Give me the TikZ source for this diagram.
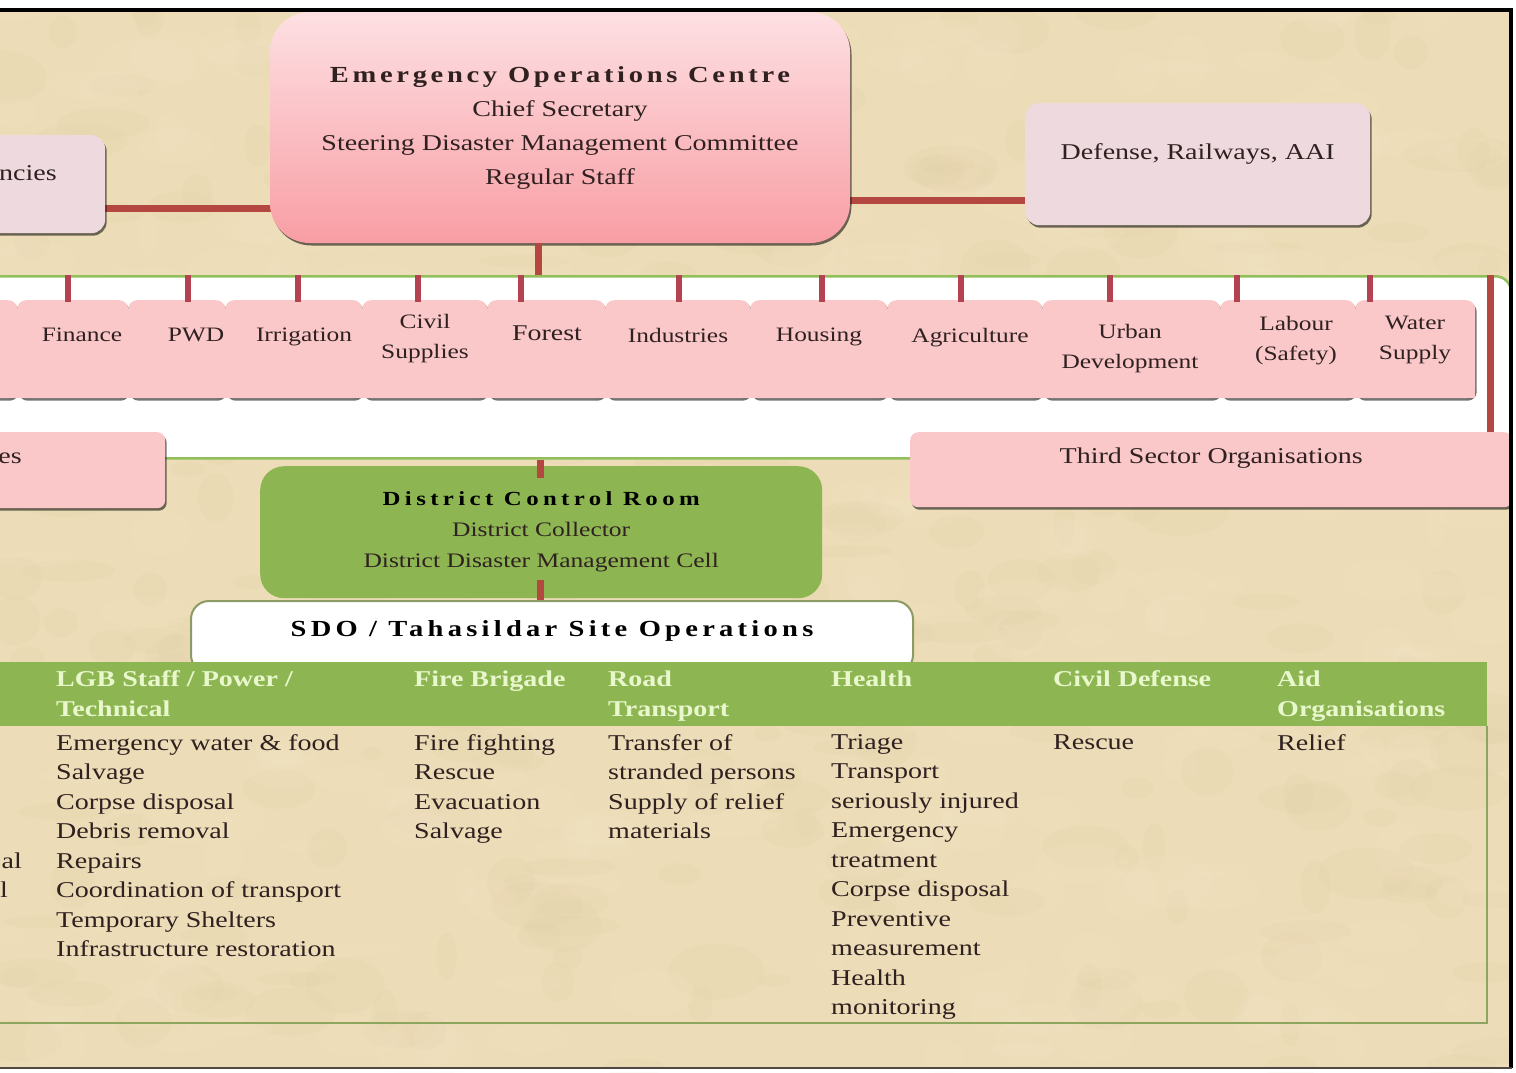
\documentclass[tikz,border=0pt]{standalone}
\usepackage{fontspec}
\setmainfont{Liberation Serif}[FakeStretch=1.24]
\usetikzlibrary{calc,shadows}

\definecolor{parch}{RGB}{236,220,183}
\definecolor{parchlight}{RGB}{247,237,212}
\definecolor{parchdark}{RGB}{214,192,150}
\definecolor{ink}{RGB}{48,33,33}
\definecolor{eoctop}{RGB}{253,224,227}
\definecolor{eocbot}{RGB}{248,158,164}
\definecolor{lavender}{RGB}{238,218,222}
\definecolor{deptpink}{RGB}{251,200,202}
\definecolor{linkred}{RGB}{180,72,64}
\definecolor{tickred}{RGB}{180,66,80}
\definecolor{bandgreen}{RGB}{146,190,92}
\definecolor{tablegreen}{RGB}{141,182,82}
\definecolor{headtext}{RGB}{233,247,205}
\definecolor{sdoedge}{RGB}{140,155,100}
\definecolor{tableline}{RGB}{140,165,95}
\definecolor{framegray}{RGB}{80,72,66}

\newcommand\bodyfont{\fontsize{22.6bp}{29.5bp}\selectfont}
\newcommand\eocfont{\fontsize{22.6bp}{34bp}\selectfont}
\newcommand\eoctitlefont{\fontsize{23bp}{34bp}\selectfont\bfseries\addfontfeatures{LetterSpace=16}}
\newcommand\dcrfont{\fontsize{20.6bp}{31bp}\selectfont}
\newcommand\dcrtitlefont{\fontsize{20bp}{31bp}\selectfont\bfseries\addfontfeatures{LetterSpace=22}}
\newcommand\sdotitlefont{\fontsize{23bp}{28bp}\selectfont\bfseries\addfontfeatures{LetterSpace=18.5}}
\newcommand\deptfont{\fontsize{20.5bp}{30bp}\selectfont}

\pgfdeclarelayer{ground}
\pgfdeclarelayer{wires}
\pgfsetlayers{ground,wires,main}

\begin{document}
\begin{tikzpicture}[x=1bp,y=-1bp,
  txt/.style={text=ink, inner sep=0pt},
  link/.style={draw=linkred, line width=7bp},
  tick/.style={draw=tickred, line width=5.5bp},
  boxshadow/.style={drop shadow={shadow xshift=1.5bp, shadow yshift=-2.5bp, fill=black, opacity=0.55}},
  tab/.style={fill=deptpink, rounded corners=9bp, minimum height=98bp, inner sep=0pt,
    anchor=north west, boxshadow},
  deptlbl/.style={txt, align=center, anchor=north, font=\deptfont},
  lavbox/.style={fill=lavender, rounded corners=14bp, inner sep=0pt, anchor=north west,
    boxshadow, text=ink, font=\eocfont},
  pinkbox/.style={fill=deptpink, rounded corners=8bp, inner sep=0pt, anchor=north west,
    boxshadow, text=ink, font=\eocfont},
  body/.style={txt, align=left, anchor=north west, font=\bodyfont},
  head/.style={text=headtext, inner sep=0pt, align=left, anchor=north west,
    font=\fontsize{22.6bp}{30bp}\selectfont\bfseries},
]
\useasboundingbox (0,0) rectangle (1516,1072);

% parchment ground with soft mottling
\begin{pgfonlayer}{ground}
\fill[white] (0,0) rectangle (1516,1072);
\fill[parch] (0,10) rectangle (1511,1068);
\pgfmathsetseed{11}
\foreach \i in {1,...,600}{
  \pgfmathsetmacro\px{rnd*1511}
  \pgfmathsetmacro\py{10+rnd*1058}
  \pgfmathsetmacro\rx{10+rnd*40}
  \pgfmathsetmacro\ry{6+rnd*22}
  \ifodd\i
    \fill[parchlight, opacity=0.10] (\px,\py) ellipse [x radius=\rx, y radius=\ry];
  \else
    \fill[parchdark, opacity=0.07] (\px,\py) ellipse [x radius=\rx, y radius=\ry];
  \fi
}
\end{pgfonlayer}

% ---------- top level ----------
\node[lavbox, minimum width=125bp, minimum height=98bp] (agencies) at (-20,135) {};
\node[txt, anchor=base east, font=\eocfont] (agencies-lbl) at (57,180) {ncies};
\node[lavbox, minimum width=345bp, text height=56bp, text depth=66bp] (defense) at (1025,103)
  {Defense, Railways, AAI};
\node[draw=none, minimum width=580bp, minimum height=231bp, rounded corners=40bp,
  top color=eoctop, bottom color=eocbot, boxshadow, inner sep=0pt, align=center,
  text=ink, font=\eocfont] (eoc) at (560,127.5)
  {{\eoctitlefont Emergency Operations Centre}\\Chief Secretary\\
   Steering Disaster Management Committee\\Regular Staff};

\begin{pgfonlayer}{wires}
\draw[link] ([yshift=-24bp]agencies.east) -- ([yshift=-24bp]agencies.east -| eoc.center);
\draw[link] ([yshift=-36bp]defense.west) -- ([yshift=-36bp]defense.west -| eoc.center);
\end{pgfonlayer}

% ---------- departments band ----------
\node[draw=bandgreen, line width=2.5bp, fill=white, rounded corners=16bp,
  minimum width=1530bp, minimum height=182bp, anchor=north west, inner sep=0pt]
  (band) at (-20,275) {};

\node[tab, minimum width=37bp] (deptcut) at (-20,300) {};
\foreach \nm/\xa/\xb in {finance/17/128, pwd/128/225, irrigation/225/362, civil/362/487,
  forest/487/605, industries/605/750, housing/750/887, agriculture/887/1042,
  urban/1042/1220, labour/1220/1355, water/1355/1475}{
  \node[tab, minimum width={(\xb-\xa)*1bp}] (\nm) at (\xa,300) {};
}
\fill[deptpink] (-20,370) rectangle (1475,398);

\foreach \nm/\lx/\ly/\lab in {
  finance/82/328/Finance, pwd/196/328/PWD, irrigation/304/328/Irrigation,
  civil/425/314/{Civil\\Supplies},
  forest/547/326/{\fontsize{22.5bp}{30bp}\selectfont Forest},
  industries/678/328/Industries, housing/819/328/Housing,
  agriculture/970/328/Agriculture, urban/1130/324/{Urban\\Development},
  labour/1296/316/{Labour\\(Safety)}, water/1415/316/{Water\\Supply}}{
  \node[deptlbl] (\nm-lbl) at (\lx,\ly) {\lab};
}

\foreach \nm/\tx in {finance/68, pwd/188, irrigation/298, civil/418, forest/521,
  industries/679, housing/822, agriculture/961, urban/1110, labour/1237, water/1370}{
  \coordinate (t-\nm) at (\tx,0);
  \draw[tick] (band.north -| t-\nm) -- ([yshift=-2bp]\nm.north -| t-\nm);
}

\coordinate (c538) at (538,0);
\draw[link] (eoc.south -| c538) -- (band.north -| c538);

% ---------- second row ----------
\node[pinkbox, minimum width=185bp, minimum height=76bp] (services) at (-20,432) {};
\node[txt, anchor=base east, font=\eocfont] (services-lbl) at (22,463) {es};
\node[pinkbox, minimum width=602bp, text height=31bp, text depth=44bp] (third) at (910,432)
  {Third Sector Organisations};
\coordinate (c1490) at (1490,0);
\draw[link] (band.north -| c1490) -- (third.north -| c1490);

% ---------- district level ----------
\node[fill=tablegreen, rounded corners=24bp, minimum width=562bp, minimum height=132bp,
  anchor=north west, inner sep=0pt, align=center, text=ink, font=\dcrfont]
  (dcr) at (260,466)
  {{\dcrtitlefont\color{black}District Control Room}\\District Collector\\
   District Disaster Management Cell};
\coordinate (c540) at (540,0);
\draw[link] (band.south -| c540) -- ($(dcr.north -| c540)+(0,12)$);

\node[fill=white, draw=sdoedge, line width=2bp, rounded corners=18bp, minimum width=722bp,
  anchor=north west, inner sep=0pt, text height=35.5bp, text depth=36.5bp, text=black]
  (sdo) at (190,600) {\sdotitlefont SDO / Tahasildar Site Operations};
\draw[link] ($(dcr.south -| c540)+(0,-18)$) -- (sdo.north -| c540);

% ---------- site operations table ----------
\node[fill=tablegreen, minimum width=1507bp, minimum height=64bp, anchor=north west,
  inner sep=0pt] (hdr) at (-20,662) {};
\draw[tableline, line width=2bp] (hdr.south east) -- ++(0,297) -- ++(-1520,0);

\node[head] (h-lgb) at (56,670.5) {LGB Staff / Power /\\Technical};
\node[head] (h-fire) at (414,670.5) {Fire Brigade};
\node[head] (h-road) at (608,670.5) {Road\\Transport};
\node[head] (h-health) at (831,670.5) {Health};
\node[head] (h-civil) at (1053,670.5) {Civil Defense};
\node[head] (h-aid) at (1277,670.5) {Aid\\Organisations};

\node[txt, anchor=base east, font=\bodyfont] (b-cut1) at (22,868) {al};
\node[txt, anchor=base east, font=\bodyfont] (b-cut2) at (8,897.5) {l};
\node[body] (b-lgb) at (56,734) {Emergency water \& food\\Salvage\\Corpse disposal\\
  Debris removal\\Repairs\\Coordination of transport\\Temporary Shelters\\
  Infrastructure restoration};
\node[body] (b-fire) at (414,734) {Fire fighting\\Rescue\\Evacuation\\Salvage};
\node[body] (b-road) at (608,734) {Transfer of\\stranded persons\\Supply of relief\\materials};
\node[body] (b-health) at (831,734) {Triage\\Transport\\seriously injured\\Emergency\\
  treatment\\Corpse disposal\\Preventive\\measurement\\Health\\monitoring};
\node[body] (b-civil) at (1053,734) {Rescue};
\node[body] (b-aid) at (1277,734) {Relief};

% page margins outside the frame
\fill[white] (0,0) rectangle (1516,8.5);
\fill[white] (1512.5,0) rectangle (1516,1072);
\fill[white] (0,1069) rectangle (1516,1072);

% frame
\draw[black, line width=3.5bp] (0,10) -- (1511,10) -- (1511,1068);
\draw[framegray, line width=2bp] (0,1068) -- (1512,1068);
\end{tikzpicture}
\end{document}
